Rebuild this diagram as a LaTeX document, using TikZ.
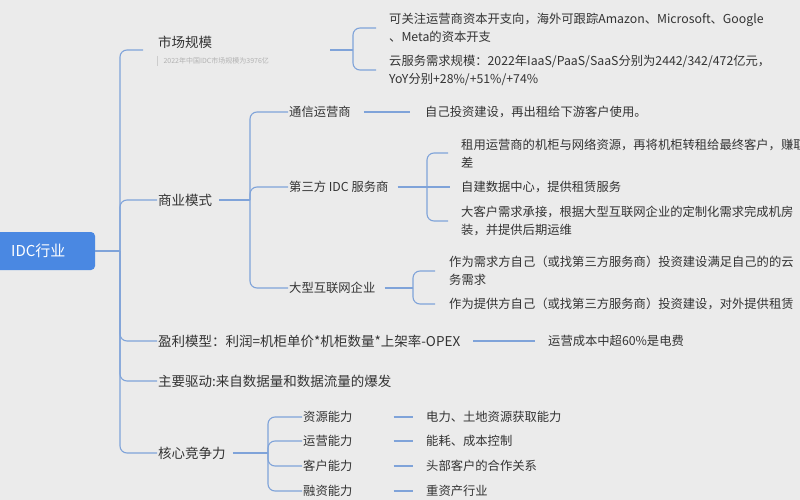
\documentclass[tikz,border=0pt]{standalone}
\usepackage{fontspec}
\newfontfamily\cjk{Noto Sans CJK SC}
\definecolor{bg}{HTML}{EBEBEB}
\definecolor{linkblue}{HTML}{7FA3D9}
\definecolor{rootblue}{HTML}{4A88E2}
\definecolor{txt}{HTML}{333333}
\begin{document}
\begin{tikzpicture}[x=1pt,y=-1pt,
    link/.style={draw=linkblue, line width=1.1pt, rounded corners=7pt},
    topic/.style={anchor=west, inner sep=1pt, text=txt, font=\cjk\fontsize{13.5}{15}\selectfont},
    sub/.style={anchor=west, inner sep=1pt, text=txt, font=\cjk\fontsize{12.3}{14}\selectfont},
    leaf/.style={anchor=west, inner sep=1pt, text=txt, align=left, font=\cjk\fontsize{12.3}{18}\selectfont}]
    \fill[bg] (0,0) rectangle (800,500);
    \useasboundingbox (0,0) rectangle (800,500);

    \fill[rootblue, rounded corners=4pt] (-10,232) rectangle (95,270);
    \node[anchor=west, inner sep=0pt, text=white, font=\cjk\fontsize{15}{17}\selectfont] (root) at (11,251) {IDC行业};
    \coordinate (rootedge) at (95,251);

    % first level
    \node[topic] (market) at (157,42) {市场规模};
    \node[anchor=west, text=gray!60, font=\cjk\fontsize{7}{8}\selectfont] (marketnote) at (160,61) {2022年中国IDC市场规模为3976亿};
    \draw[gray!40, line width=1pt] (157,56) -- (157,66);
    \node[topic] (business) at (157,200) {商业模式};
    \node[topic] (profit) at (157,341) {盈利模型：利润=机柜单价*机柜数量*上架率-OPEX};
    \node[topic] (driver) at (157,381) {主要驱动:来自数据量和数据流量的爆发};
    \node[topic] (core) at (157,453) {核心竞争力};

    \coordinate (spine) at (120,251);
    \draw[link] (rootedge) -- (spine);
    \draw[link] (spine) |- (143,50);
    \draw[link] (spine) |- (business.west);
    \draw[link] (spine) |- (profit.west);
    \draw[link] (spine) |- (driver.west);
    \draw[link] (spine) |- (core.west);

    % market size
    \node[leaf] (capex) at (388,28) {可关注运营商资本开支向，海外可跟踪Amazon、Microsoft、Google\\、Meta的资本开支};
    \node[leaf] (cloud) at (388,70) {云服务需求规模：2022年IaaS/PaaS/SaaS分别为2442/342/472亿元，\\YoY分别+28\%/+51\%/+74\%};
    \coordinate (mkt) at (353,50);
    \draw[link] (330,50) -- (mkt);
    \draw[link] (mkt) |- (376,28);
    \draw[link] (mkt) |- (376,70);

    % business model
    \node[sub] (telecom) at (288,112) {通信运营商};
    \node[sub] (thirdparty) at (288,187) {第三方 IDC 服务商};
    \node[sub] (internet) at (288,288) {大型互联网企业};
    \coordinate (biz) at (250,200);
    \draw[link] (business.east) ++(6,0) -- (biz);
    \draw[link] (biz) |- (telecom.west);
    \draw[link] (biz) |- (thirdparty.west);
    \draw[link] (biz) |- (internet.west);

    \node[leaf] (selfbuild) at (424,112) {自己投资建设，再出租给下游客户使用。};
    \draw[link] (telecom.east) ++(12,0) -- ([xshift=-14pt]selfbuild.west);

    \node[leaf] (rent) at (460,153) {租用运营商的机柜与网络资源，再将机柜转租给最终客户，赚取价\\差};
    \node[leaf] (owndc) at (460,187) {自建数据中心，提供租赁服务};
    \node[leaf] (bigclient) at (460,221) {大客户需求承接，根据大型互联网企业的定制化需求完成机房\\装，并提供后期运维};
    \coordinate (tp) at (427,187);
    \draw[link] (thirdparty.east) ++(8,0) -- (tp);
    \draw[link] (tp) |- (448,153);
    \draw[link] (tp) -- ([xshift=-10pt]owndc.west);
    \draw[link] (tp) |- (448,221);

    \node[leaf] (demand) at (448,271) {作为需求方自己（或找第三方服务商）投资建设满足自己的的云\\务需求};
    \node[leaf] (supply) at (448,304) {作为提供方自己（或找第三方服务商）投资建设，对外提供租赁};
    \coordinate (net) at (413,288);
    \draw[link] (internet.east) ++(8,0) -- (net);
    \draw[link] (net) |- (435,271);
    \draw[link] (net) |- (435,304);

    % profit model
    \node[leaf] (power) at (547,341) {运营成本中超60\%是电费};
    \draw[link] (profit.east) ++(12,0) -- ([xshift=-12pt]power.west);

    % core competence
    \node[sub] (resource) at (302,417) {资源能力};
    \node[sub] (operate) at (302,441) {运营能力};
    \node[sub] (client) at (302,466) {客户能力};
    \node[sub] (finance) at (302,491) {融资能力};
    \coordinate (cc) at (268,453);
    \draw[link] (core.east) ++(6,0) -- (cc);
    \foreach \n in {resource,operate,client,finance}
        \draw[link] (cc) |- (\n.west);

    \node[leaf] (land) at (425,417) {电力、土地资源获取能力};
    \node[leaf] (energy) at (425,441) {能耗、成本控制};
    \node[leaf] (head) at (425,466) {头部客户的合作关系};
    \node[leaf] (heavy) at (425,491) {重资产行业};
    \foreach \a/\b in {resource/land,operate/energy,client/head,finance/heavy}
        \draw[link] (\a.east) ++(40,0) -- ([xshift=-12pt]\b.west);
\end{tikzpicture}
\end{document}
